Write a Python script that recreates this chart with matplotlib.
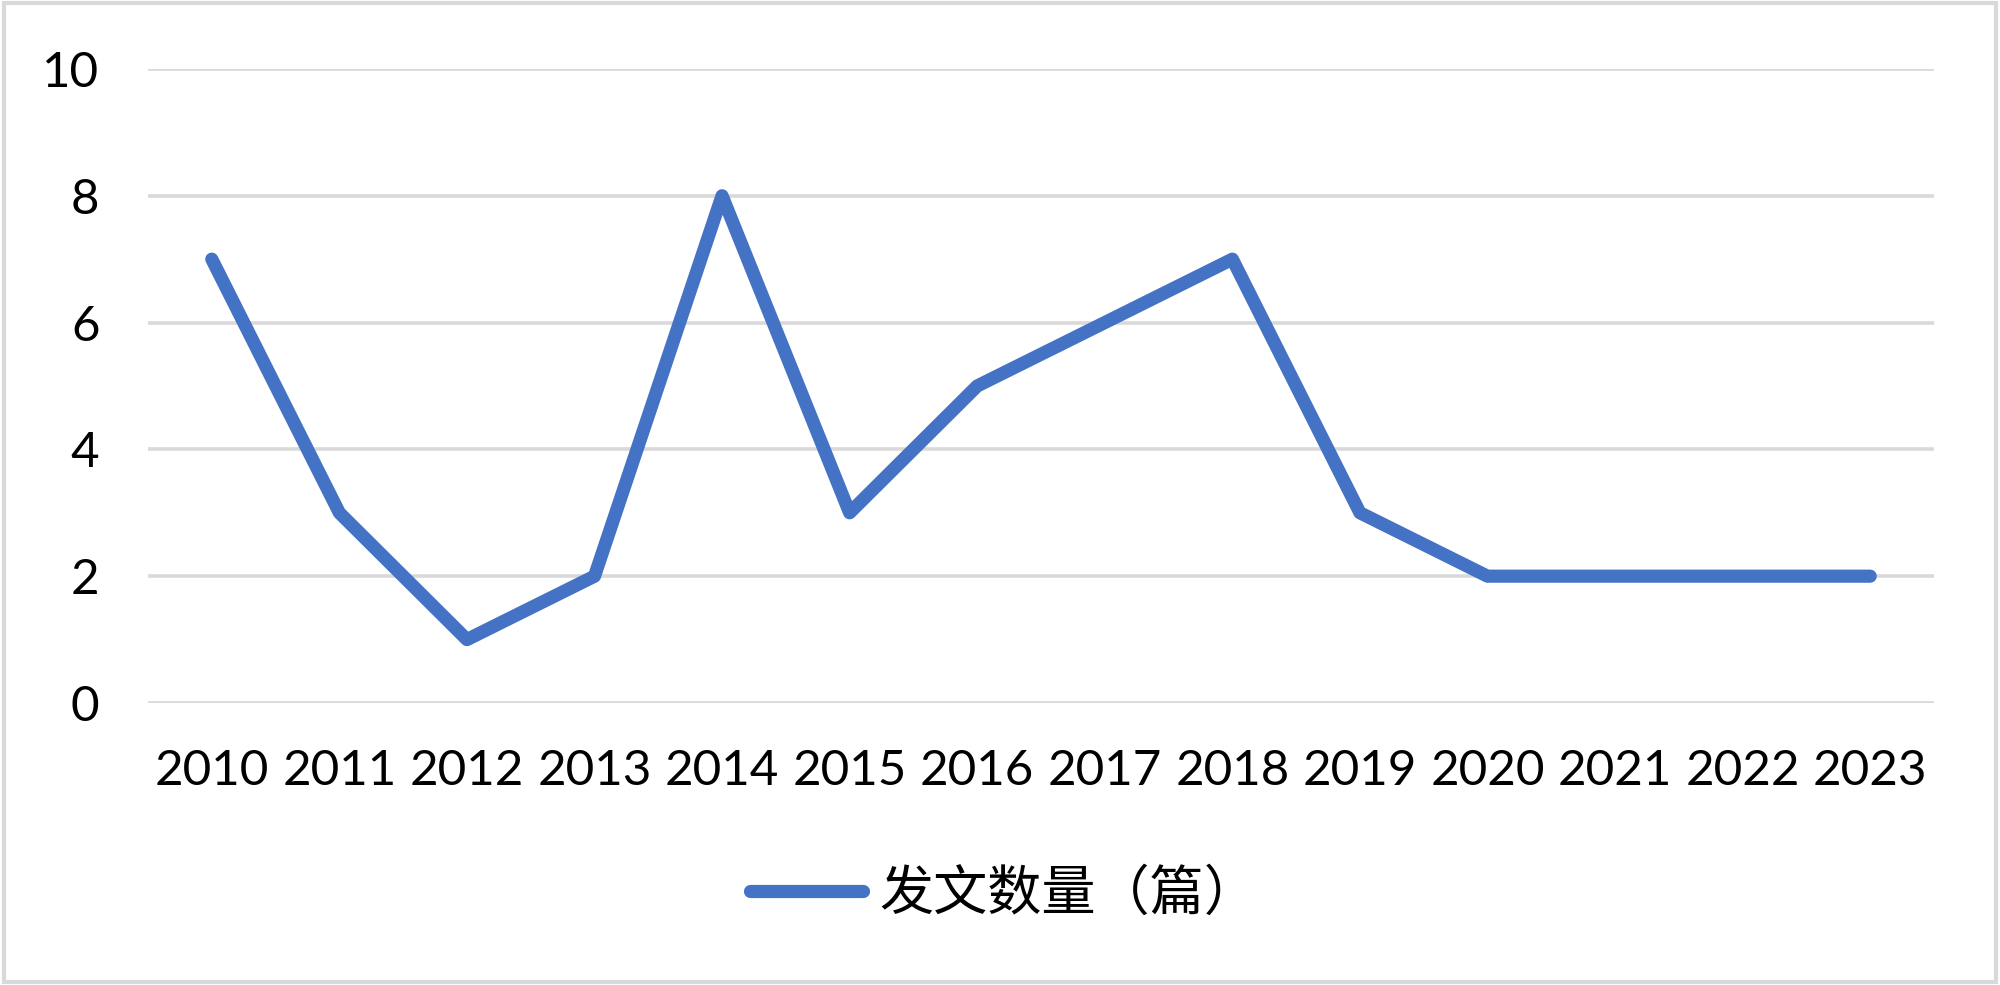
import matplotlib
matplotlib.use('Agg')
import matplotlib.pyplot as plt
from matplotlib.patches import Rectangle

years = ['2010', '2011', '2012', '2013', '2014', '2015', '2016',
         '2017', '2018', '2019', '2020', '2021', '2022', '2023']
counts = [7, 3, 1, 2, 8, 3, 5, 6, 7, 3, 2, 2, 2, 2]
yticks = [0, 2, 4, 6, 8, 10]
series_name = '发文数量（篇）'

plt.rcParams['font.family'] = ['Lato', 'DejaVu Sans']

fig = plt.figure(figsize=(20, 9.85), dpi=100)
ax = fig.add_axes([0.074, 0.2863, 0.893, 0.6437])

x = list(range(len(years)))
ax.plot(x, counts, color='#4472C4', lw=9.5, solid_capstyle='round',
        solid_joinstyle='round', label=series_name, zorder=3)

ax.set_xlim(-0.5, len(years) - 0.5)
ax.set_ylim(0, 10)
ax.set_yticks(yticks)
ax.set_xticks(x)
ax.set_xticklabels(years)
ax.grid(axis='y', color='#D9D9D9', lw=2.6)
ax.set_axisbelow(True)
for s in ax.spines.values():
    s.set_visible(False)
ax.tick_params(axis='both', length=0, labelsize=35.5, colors='black')
ax.tick_params(axis='y', pad=35)
ax.tick_params(axis='x', pad=33)

leg = fig.legend(loc='center', bbox_to_anchor=(0.502, 0.0924), frameon=False,
                 prop={'family': ['Noto Sans CJK SC', 'DejaVu Sans'], 'size': 39},
                 handlelength=2.1, handletextpad=0.3)

fig.patches.append(Rectangle((0.002, 0.003), 0.996, 0.994, transform=fig.transFigure,
                             fill=False, edgecolor='#D9D9D9', lw=3))

fig.savefig('out.png', dpi=100)
